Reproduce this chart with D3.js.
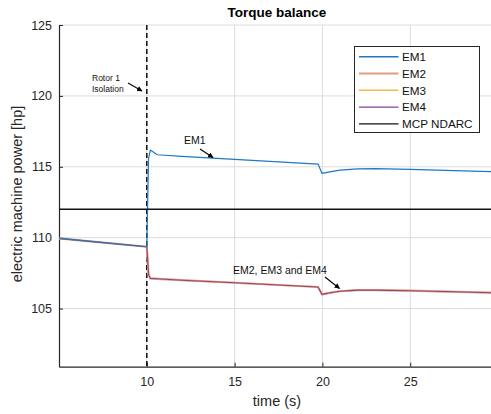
<!DOCTYPE html>
<html>
<head>
<meta charset="utf-8">
<script src="https://cdn.jsdelivr.net/npm/d3@7"></script>
<style>
    body { margin: 0; background: #ffffff; }
    svg { display: block; font-family: "Liberation Sans", Arial, sans-serif; }
</style>
</head>
<body>
<svg id="chart" width="491" height="414"></svg>
<script>

// Time samples (s)
var time = [5, 10, 10.1, 10.2, 10.6, 12, 15, 19.75, 19.98, 20.5, 21, 22, 23, 25, 27, 29.6];

// Electric machine power (hp)
var em1 = [109.95, 109.36, 115.6, 116.18, 115.85, 115.74, 115.52, 115.19, 114.53, 114.66, 114.76, 114.85, 114.87, 114.82, 114.75, 114.66];
var em2 = [109.95, 109.36, 107.4, 107.13, 107.1, 107.0, 106.82, 106.52, 106.0, 106.13, 106.22, 106.3, 106.3, 106.26, 106.2, 106.12];
var em3 = [109.95, 109.36, 107.4, 107.13, 107.1, 107.0, 106.82, 106.52, 106.0, 106.13, 106.22, 106.3, 106.3, 106.26, 106.2, 106.12];
var em4 = [109.95, 109.36, 107.4, 107.13, 107.1, 107.0, 106.82, 106.52, 106.0, 106.13, 106.22, 106.3, 106.3, 106.26, 106.2, 106.12];

// Maximum continuous power from NDARC and the isolation instant
var mcpNdarc = 112;
var isolationTime = 10;

var xTicks = [10, 15, 20, 25];
var yTicks = [105, 110, 115, 120, 125];

var seriesNames = ["EM1", "EM2", "EM3", "EM4", "MCP NDARC"];
var seriesColors = ["#1f78c1", "#e39b7b", "#efbd55", "#8a3f9a", "#111111"];
var seriesWidths = [1.2, 2.2, 1.6, 1.1, 1.4];

var svg = d3.select("#chart");

// plot area bounds
var pLeft = 59, pRight = 491, pTop = 25, pBottom = 366.7;

var x = d3.scaleLinear().domain([5, 29.6]).range([pLeft, pRight]);
var y = d3.scaleLinear().domain([100.9, 125]).range([pBottom, pTop]);

// Grid lines
svg.append("g")
    .selectAll("line")
    .data(xTicks)
    .enter().append("line")
    .attr("x1", function(d) { return x(d); })
    .attr("x2", function(d) { return x(d); })
    .attr("y1", pTop)
    .attr("y2", pBottom)
    .style("stroke", "#dcdcdc")
    .style("stroke-width", 1);

svg.append("g")
    .selectAll("line")
    .data(yTicks)
    .enter().append("line")
    .attr("x1", pLeft)
    .attr("x2", pRight)
    .attr("y1", function(d) { return y(d); })
    .attr("y2", function(d) { return y(d); })
    .style("stroke", "#dcdcdc")
    .style("stroke-width", 1);

// Axes, ticks pointing inward
var xAxis = svg.append("g")
    .attr("transform", "translate(0," + pBottom + ")")
    .call(d3.axisBottom(x).tickValues(xTicks).tickSizeInner(-4).tickSizeOuter(0).tickPadding(10));

var yAxis = svg.append("g")
    .attr("transform", "translate(" + pLeft + ",0)")
    .call(d3.axisLeft(y).tickValues(yTicks).tickSizeInner(-4).tickSizeOuter(0).tickPadding(7));

[xAxis, yAxis].forEach(function(ax) {
    ax.select(".domain").style("stroke", "#262626").style("stroke-width", 1.2);
    ax.selectAll(".tick line").style("stroke", "#262626");
    ax.selectAll("text")
        .style("font-family", "'Liberation Sans', Arial, sans-serif")
        .style("font-size", "12.5px")
        .style("fill", "#262626");
});

// Rotor 1 isolation marker
svg.append("line")
    .attr("x1", x(isolationTime))
    .attr("x2", x(isolationTime))
    .attr("y1", pTop)
    .attr("y2", pBottom)
    .style("stroke", "#000")
    .style("stroke-width", 1.4)
    .style("stroke-dasharray", "5,3");

// Power traces
var values = [em1, em2, em3, em4];
var line = d3.line()
    .x(function(d) { return x(d[0]); })
    .y(function(d) { return y(d[1]); });

// EM2 to EM4 first so that EM1 stays on top where they split
[1, 2, 3, 0].forEach(function(i) {
    svg.append("path")
        .datum(d3.zip(time, values[i]))
        .attr("d", line)
        .style("fill", "none")
        .style("stroke", seriesColors[i])
        .style("stroke-width", seriesWidths[i])
        .style("stroke-linejoin", "round");
});

svg.append("line")
    .attr("x1", pLeft)
    .attr("x2", pRight)
    .attr("y1", y(mcpNdarc))
    .attr("y2", y(mcpNdarc))
    .style("stroke", seriesColors[4])
    .style("stroke-width", seriesWidths[4]);

// Arrowhead for the annotations
svg.append("defs").append("marker")
    .attr("id", "arrow")
    .attr("viewBox", "0 0 10 10")
    .attr("refX", 9)
    .attr("refY", 5)
    .attr("markerWidth", 5)
    .attr("markerHeight", 5)
    .attr("orient", "auto")
    .append("path")
    .attr("d", "M0,0 L10,5 L0,10 z")
    .style("fill", "#000");

function annotate(lines, tx, ty, size, arrow) {
    var t = svg.append("text")
        .attr("x", tx)
        .attr("y", ty)
        .style("font-size", size + "px")
        .style("fill", "#111");
    lines.forEach(function(s, i) {
        t.append("tspan")
            .attr("x", tx)
            .attr("dy", i == 0 ? 0 : size * 1.35)
            .text(s);
    });
    svg.append("line")
        .attr("x1", arrow[0])
        .attr("y1", arrow[1])
        .attr("x2", arrow[2])
        .attr("y2", arrow[3])
        .style("stroke", "#000")
        .style("stroke-width", 1.1)
        .attr("marker-end", "url(#arrow)");
}

annotate(["Rotor 1", "Isolation"], 92, 81, 8.5, [128, 83, 142, 91]);
annotate(["EM1"], 184, 144, 10.5, [200, 149, 213, 157.5]);
annotate(["EM2, EM3 and EM4"], 233, 274, 10.5, [325, 277, 339.5, 288.5]);

// Legend
var legend = svg.append("g");
legend.append("rect")
    .attr("x", 354.5)
    .attr("y", 46.5)
    .attr("width", 125)
    .attr("height", 86)
    .style("fill", "#fff")
    .style("stroke", "#262626")
    .style("stroke-width", 1);

seriesNames.forEach(function(name, i) {
    var ly = 56.7 + i * 16.8;
    legend.append("line")
        .attr("x1", 359)
        .attr("x2", 398.5)
        .attr("y1", ly)
        .attr("y2", ly)
        .style("stroke", seriesColors[i])
        .style("stroke-width", i == 1 ? 2 : 1.4);
    legend.append("text")
        .attr("x", 402)
        .attr("y", ly + 4.2)
        .style("font-size", "11.7px")
        .style("fill", "#111")
        .text(name);
});

// Titles
svg.append("text")
    .attr("x", 277)
    .attr("y", 17)
    .attr("text-anchor", "middle")
    .style("font-size", "13.5px")
    .style("font-weight", "bold")
    .style("fill", "#000")
    .text("Torque balance");

svg.append("text")
    .attr("x", 277)
    .attr("y", 406)
    .attr("text-anchor", "middle")
    .style("font-size", "14.5px")
    .style("fill", "#262626")
    .text("time (s)");

svg.append("text")
    .attr("transform", "translate(22,194) rotate(-90)")
    .attr("text-anchor", "middle")
    .style("font-size", "14.5px")
    .style("fill", "#262626")
    .text("electric machine power [hp]");

</script>
</body>
</html>
